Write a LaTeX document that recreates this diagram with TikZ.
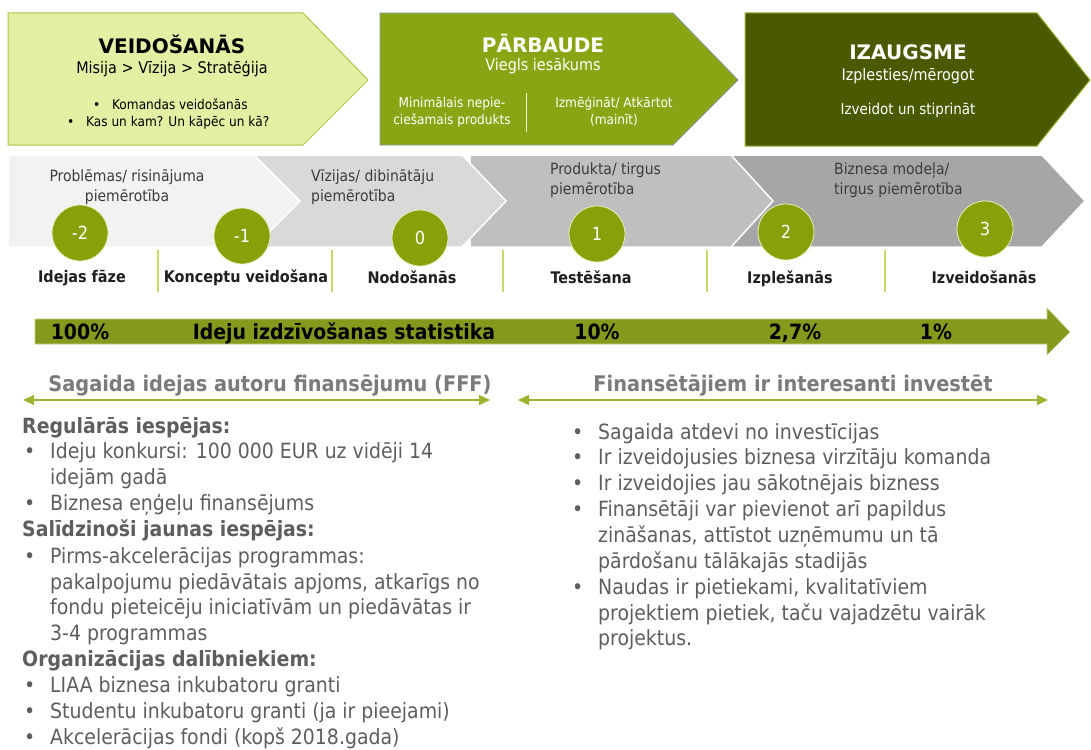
\documentclass[tikz,border=0pt]{standalone}
\usepackage{fontspec}
\setmainfont{DejaVu Sans Condensed}
\newfontfamily\widefont{DejaVu Sans}
\usetikzlibrary{arrows.meta}
\definecolor{lightlime}{HTML}{E3F0A3}
\definecolor{limeedge}{HTML}{A9C64A}
\definecolor{olivebox}{HTML}{8AA513}
\definecolor{oliveedge}{HTML}{7F9AA8}
\definecolor{darkolive}{HTML}{4A5A00}
\definecolor{darkedge}{HTML}{9AB530}
\definecolor{circfill}{HTML}{86A10A}
\definecolor{circedge}{HTML}{E6F0B8}
\definecolor{arrowgreen}{HTML}{86991D}
\definecolor{arrowedge}{HTML}{C2CF86}
\definecolor{sepgreen}{HTML}{C6DA6A}
\definecolor{dblgreen}{HTML}{9AB532}
\definecolor{txtgray}{HTML}{5E5E5E}
\definecolor{headgray}{HTML}{7B7B7B}
\definecolor{seggray}{HTML}{3C3C3C}
\definecolor{segA}{HTML}{F2F2F2}
\definecolor{segB}{HTML}{D9D9D9}
\definecolor{segC}{HTML}{BFBFBF}
\definecolor{segD}{HTML}{A6A6A6}
\tikzset{
  boxtitle/.style={inner sep=0pt, font=\widefont\bfseries\fontsize{20}{24}\selectfont},
  boxsub/.style={inner sep=0pt, font=\fontsize{16}{19}\selectfont},
  boxsmall/.style={inner sep=0pt, align=center, font=\fontsize{13.5}{17}\selectfont},
  seglabel/.style={inner sep=0pt, text=seggray, font=\fontsize{15.5}{20}\selectfont},
  stagecirc/.style={circle, minimum size=56pt, inner sep=0pt, fill=circfill, draw=circedge, line width=0.8pt, text=white, font=\fontsize{18}{20}\selectfont},
  stagelabel/.style={inner sep=0pt, text=black!88, font=\bfseries\fontsize{16}{18}\selectfont},
  arrowtext/.style={inner sep=0pt, anchor=base, text=black, font=\bfseries\fontsize{21}{22}\selectfont},
  sechead/.style={inner sep=0pt, anchor=base, text=headgray, font=\bfseries\fontsize{21.5}{24}\selectfont},
  lst/.style={inner sep=0pt, anchor=base west, text=txtgray, font=\fontsize{21}{24}\selectfont},
  lsthead/.style={lst, font=\bfseries\fontsize{21}{24}\selectfont},
  dblarrow/.style={draw=dblgreen, line width=1.3pt, {Triangle[length=11pt,width=10pt]}-{Triangle[length=11pt,width=10pt]}},
  sepline/.style={draw=sepgreen, line width=1.6pt},
  segshape/.style={draw=white, line width=1.5pt}
}
\newcommand{\bul}{\makebox[26pt][l]{\textbullet}}
\begin{document}
\begin{tikzpicture}[x=1pt,y=-1pt]
\useasboundingbox (0,0) rectangle (1091,749);
\fill[white] (0,0) rectangle (1091,749);

% ---------- top boxes ----------
\filldraw[fill=lightlime, draw=limeedge, line width=1pt] (8,13) -- (303,13) -- (368,80) -- (303,145) -- (8,145) -- cycle;
\filldraw[fill=olivebox, draw=oliveedge, line width=0.8pt] (380,13) -- (673,13) -- (738,80) -- (673,145) -- (380,145) -- cycle;
\filldraw[fill=darkolive, draw=darkedge, line width=1pt] (745,13) -- (1037,13) -- (1090,80) -- (1037,146) -- (745,146) -- cycle;

\node[boxtitle] (t1) at (172,44) {VEIDOŠANĀS};
\node[boxsub] (t1s) at (172,69) {Misija > Vīzija > Stratēģija};
\node[boxsmall, anchor=base west] (t1a) at (93,110) {\makebox[19pt][l]{\textbullet}Komandas veidošanās};
\node[boxsmall, anchor=base west] (t1b) at (67,127) {\makebox[19pt][l]{\textbullet}Kas un kam? Un kāpēc un kā?};

\node[boxtitle, text=white] (t2) at (543,44) {PĀRBAUDE};
\node[boxsub, text=white] (t2s) at (543,66) {Viegls iesākums};
\node[boxsmall, text=white] (t2a) at (452,112) {Minimālais nepie-\\ciešamais produkts};
\node[boxsmall, text=white] (t2b) at (614,112) {Izmēģināt/ Atkārtot\\(mainīt)};
\draw[white!85!olivebox, line width=1pt] (526,93) -- (526,132);

\node[boxtitle, text=white] (t3) at (908,52) {IZAUGSME};
\node[boxsub, text=white] (t3s) at (908,76) {Izplesties/mērogot};
\node[boxsmall, text=white, font=\fontsize{15}{17}\selectfont] (t3a) at (908,110) {Izveidot un stiprināt};

% ---------- chevron band ----------
\filldraw[segshape, fill=segD] (540,155) -- (1042,155) -- (1085,201) -- (1042,247) -- (540,247) -- cycle;
\filldraw[segshape, fill=segC] (470,155) -- (731,155) -- (773,201) -- (731,247) -- (470,247) -- cycle;
\filldraw[segshape, fill=segB] (250,155) -- (462,155) -- (506,201) -- (462,247) -- (250,247) -- cycle;
\filldraw[segshape, fill=segA] (8,155) -- (254,155) -- (300,201) -- (254,247) -- (8,247) -- cycle;

\node[seglabel, align=center] (s1) at (127,187) {Problēmas/ risinājuma\\piemērotība};
\node[seglabel, align=left, anchor=west] (s2) at (311,187) {Vīzijas/ dibinātāju\\piemērotība};
\node[seglabel, align=left, anchor=west] (s3) at (550,180) {Produkta/ tirgus\\piemērotība};
\node[seglabel, align=left, anchor=west] (s4) at (834,180) {Biznesa modeļa/\\tirgus piemērotība};

\node[stagecirc] (c1) at (80,233) {-2};
\node[stagecirc] (c2) at (242,236) {-1};
\node[stagecirc] (c3) at (420,238) {0};
\node[stagecirc] (c4) at (597,234) {1};
\node[stagecirc] (c5) at (786,232) {2};
\node[stagecirc] (c6) at (985,229) {3};

\draw[sepline] (158,250) -- (158,292);
\draw[sepline] (332,250) -- (332,292);
\draw[sepline] (503,250) -- (503,292);
\draw[sepline] (707,250) -- (707,292);
\draw[sepline] (885,250) -- (885,292);

\node[stagelabel] (p1) at (82,278) {Idejas fāze};
\node[stagelabel] (p2) at (246,278) {Konceptu veidošana};
\node[stagelabel] (p3) at (412,277) {Nodošanās};
\node[stagelabel] (p4) at (591,277) {Testēšana};
\node[stagelabel] (p5) at (790,279) {Izplešanās};
\node[stagelabel] (p6) at (984,277) {Izveidošanās};

% ---------- survival arrow ----------
\filldraw[fill=arrowgreen, draw=arrowedge, line width=0.6pt] (35,319) -- (1047,319) -- (1047,308) -- (1070,332) -- (1047,355) -- (1047,344) -- (35,344) -- cycle;
\node[arrowtext] (a1) at (80,339) {100\%};
\node[arrowtext] (a2) at (344,339) {Ideju izdzīvošanas statistika};
\node[arrowtext] (a3) at (597,339) {10\%};
\node[arrowtext] (a4) at (795,339) {2,7\%};
\node[arrowtext] (a5) at (936,339) {1\%};

% ---------- section heads ----------
\node[sechead] (h1) at (270,391) {Sagaida idejas autoru finansējumu (FFF)};
\node[sechead] (h2) at (793,391) {Finansētājiem ir interesanti investēt};
\coordinate (la) at (23,400);
\coordinate (lb) at (490,400);
\coordinate (ra) at (518,400);
\coordinate (rb) at (1048,400);
\draw[dblarrow] (la) -- (lb);
\draw[dblarrow] (ra) -- (rb);

% ---------- left list ----------
\node[lsthead] (l1) at (22,433) {Regulārās iespējas:};
\node[lst] (l2) at (24,458) {\bul Ideju konkursi: 100 000 EUR uz vidēji 14};
\node[lst] (l3) at (50,484) {idejām gadā};
\node[lst] (l4) at (24,510) {\bul Biznesa eņģeļu finansējums};
\node[lsthead] (l5) at (22,536) {Salīdzinoši jaunas iespējas:};
\node[lst] (l6) at (24,563) {\bul Pirms-akcelerācijas programmas:};
\node[lst] (l7) at (50,589) {pakalpojumu piedāvātais apjoms, atkarīgs no};
\node[lst] (l8) at (50,614) {fondu pieteicēju iniciatīvām un piedāvātas ir};
\node[lst] (l9) at (50,640) {3-4 programmas};
\node[lsthead] (l10) at (22,666) {Organizācijas dalībniekiem:};
\node[lst] (l11) at (24,692) {\bul LIAA biznesa inkubatoru granti};
\node[lst] (l12) at (24,718) {\bul Studentu inkubatoru granti (ja ir pieejami)};
\node[lst] (l13) at (24,744) {\bul Akcelerācijas fondi (kopš 2018.gada)};

% ---------- right list ----------
\node[lst] (r1) at (572,439) {\bul Sagaida atdevi no investīcijas};
\node[lst] (r2) at (572,464) {\bul Ir izveidojusies biznesa virzītāju komanda};
\node[lst] (r3) at (572,490) {\bul Ir izveidojies jau sākotnējais bizness};
\node[lst] (r4) at (572,516) {\bul Finansētāji var pievienot arī papildus};
\node[lst] (r5) at (598,542) {zināšanas, attīstot uzņēmumu un tā};
\node[lst] (r6) at (598,568) {pārdošanu tālākajās stadijās};
\node[lst] (r7) at (572,594) {\bul Naudas ir pietiekami, kvalitatīviem};
\node[lst] (r8) at (598,620) {projektiem pietiek, taču vajadzētu vairāk};
\node[lst] (r9) at (598,645) {projektus.};
\end{tikzpicture}
\end{document}
